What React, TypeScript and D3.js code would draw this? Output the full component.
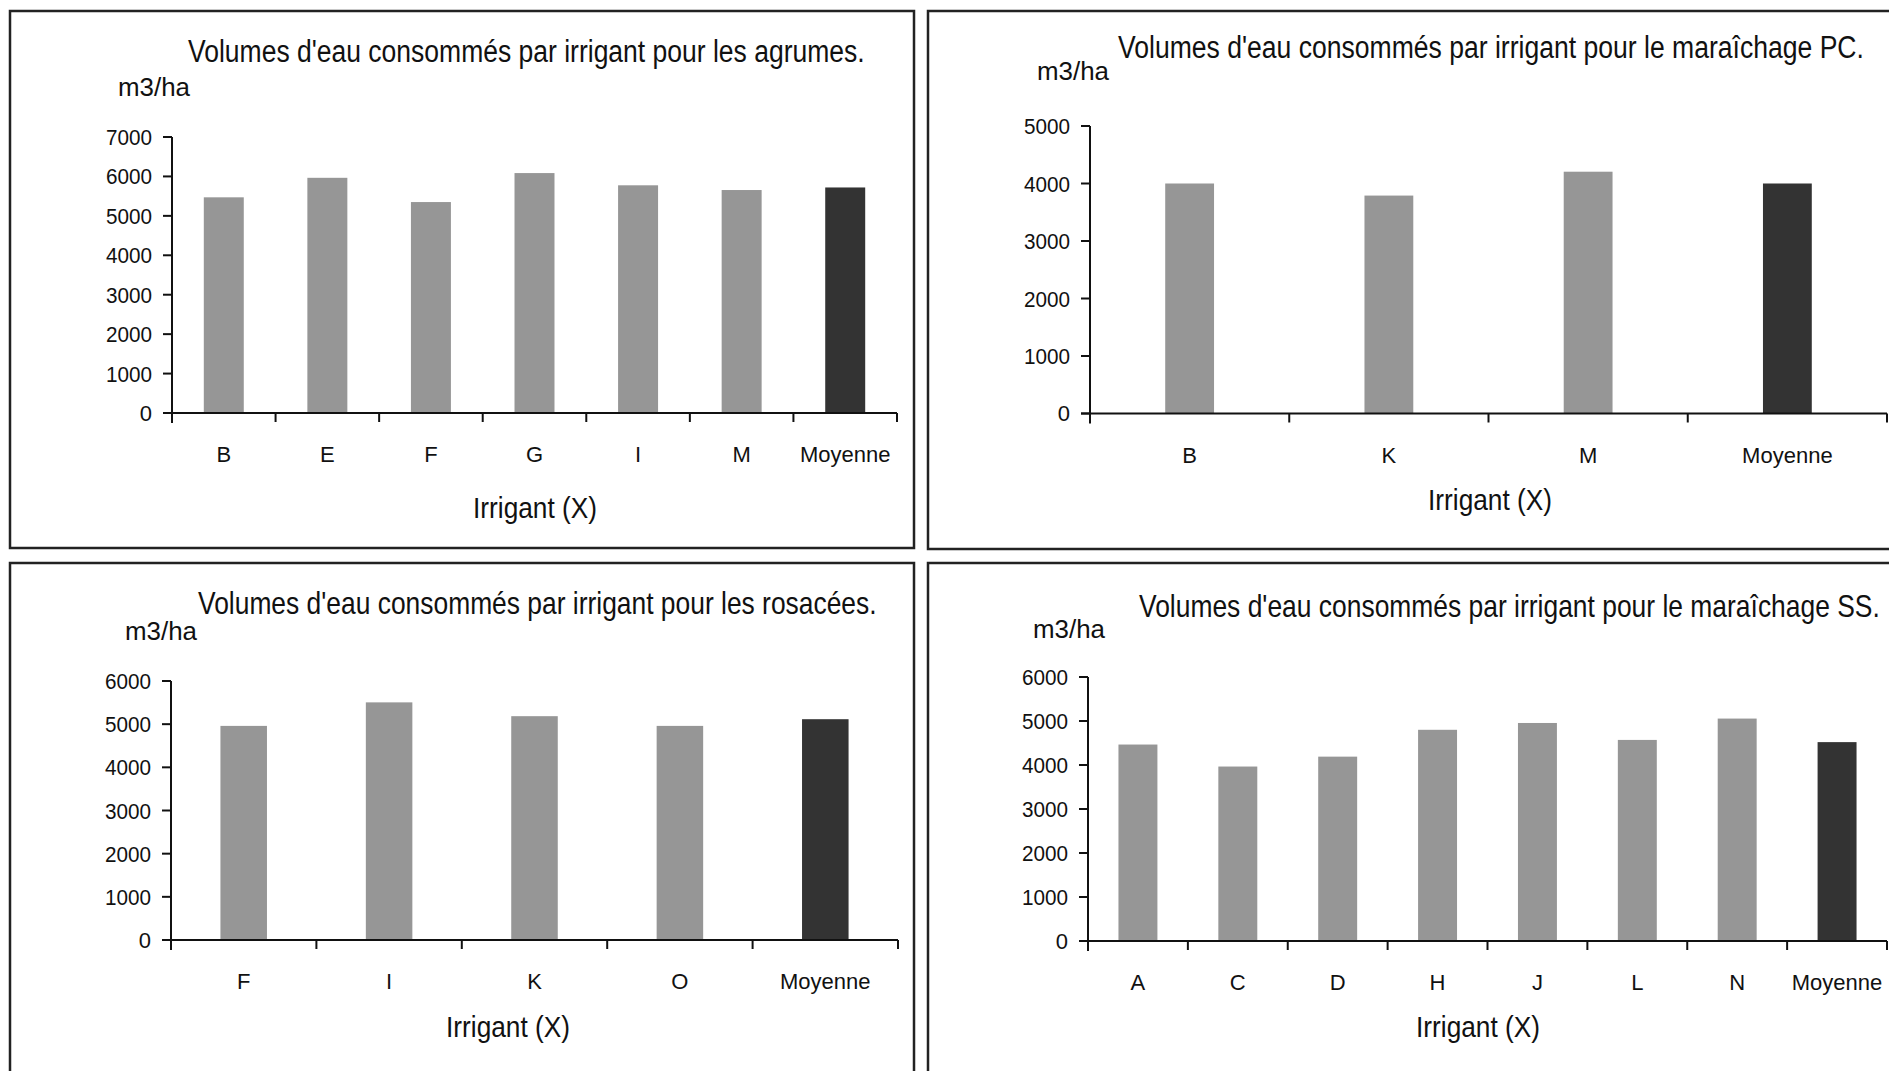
import React, { useLayoutEffect, useRef, useState } from "react";
import * as d3 from "d3";

// ---- Data ----
const agrumesCats = ["B", "E", "F", "G", "I", "M", "Moyenne"];
const agrumesVals = [5470, 5965, 5350, 6085, 5775, 5655, 5720];

const pcCats = ["B", "K", "M", "Moyenne"];
const pcVals = [4000, 3790, 4205, 4000];

const rosaceesCats = ["F", "I", "K", "O", "Moyenne"];
const rosaceesVals = [4960, 5505, 5185, 4960, 5115];

const ssCats = ["A", "C", "D", "H", "J", "L", "N", "Moyenne"];
const ssVals = [4465, 3965, 4190, 4800, 4955, 4570, 5055, 4520];

const titles = [
  "Volumes d'eau consommés par irrigant pour les agrumes.",
  "Volumes d'eau consommés par irrigant pour le maraîchage PC.",
  "Volumes d'eau consommés par irrigant pour les rosacées.",
  "Volumes d'eau consommés par irrigant pour le maraîchage SS.",
];
const yMaxes = [7000, 5000, 6000, 6000];
const unitLabel = "m3/ha";
const xAxisLabel = "Irrigant (X)";
const meanLabel = "Moyenne";

// ---- Layout (positions/sizes only) ----
const panels = [
  { cats: agrumesCats, vals: agrumesVals, box: [10, 11, 904, 537], x0: 172, x1: 897, yZero: 413, yTop: 137, barFrac: 0.386,
    title: [188, 62, 677], unit: [118, 96], xt: [535, 518] },
  { cats: pcCats, vals: pcVals, box: [928, 11, 1000, 538], x0: 1090, x1: 1887, yZero: 413.5, yTop: 126, barFrac: 0.245,
    title: [1118, 58, 746], unit: [1037, 80], xt: [1490, 510] },
  { cats: rosaceesCats, vals: rosaceesVals, box: [10, 563, 904, 600], x0: 171, x1: 898, yZero: 940, yTop: 681, barFrac: 0.32,
    title: [198, 614, 679], unit: [125, 640], xt: [508, 1037] },
  { cats: ssCats, vals: ssVals, box: [928, 563, 1000, 600], x0: 1088, x1: 1887, yZero: 941, yTop: 677, barFrac: 0.39,
    title: [1139, 617, 741], unit: [1033, 638], xt: [1478, 1037] },
];

const FONT = "'Liberation Sans', Arial, sans-serif";
const INK = "#111";
const GRAY = "#969696";
const DARK = "#333333";

// Text horizontally squeezed to a target width via a scale transform
function FitText({ x, y, width, anchor = "start", fontSize, children }: any) {
  const ref = useRef<SVGTextElement>(null);
  const [sx, setSx] = useState(1);
  useLayoutEffect(() => {
    if (ref.current) {
      const w = ref.current.getComputedTextLength();
      if (w > 0) setSx(width / w);
    }
  }, [width, children]);
  return (
    <text ref={ref} transform={`translate(${x},${y}) scale(${sx},1)`} textAnchor={anchor}
      fontSize={fontSize} fontFamily={FONT} fill={INK}>{children}</text>
  );
}

function Panel({ p, i }: { p: any; i: number }) {
  const yMax = yMaxes[i];
  const y = d3.scaleLinear().domain([0, yMax]).range([p.yZero, p.yTop]);
  const pad = 1 - p.barFrac;
  const xb = d3.scaleBand<string>().domain(p.cats).range([p.x0, p.x1]).paddingInner(pad).paddingOuter(pad / 2);
  const xt = d3.scaleBand<string>().domain(p.cats).range([p.x0, p.x1]).padding(0);
  const ticks = d3.range(0, yMax + 1, 1000);
  const boundaries = [...p.cats.map((c: string) => xt(c) as number), p.x1];
  const [bx, by, bw, bh] = p.box;
  return (
    <g>
      <rect x={bx} y={by} width={bw} height={bh} fill="#fff" stroke="#222" strokeWidth={2.5} />
      <FitText x={p.title[0]} y={p.title[1]} width={p.title[2]} fontSize={31}>{titles[i]}</FitText>
      <FitText x={p.unit[0]} y={p.unit[1]} width={72} fontSize={25}>{unitLabel}</FitText>
      {p.cats.map((c: string, k: number) => (
        <rect key={c} x={xb(c)} y={y(p.vals[k])} width={xb.bandwidth()} height={p.yZero - y(p.vals[k])}
          fill={c === meanLabel ? DARK : GRAY} />
      ))}
      {/* y axis */}
      <line x1={p.x0} x2={p.x0} y1={y(yMax)} y2={p.yZero + 10} stroke={INK} strokeWidth={2} />
      {ticks.map((t) => (
        <g key={t}>
          <line x1={p.x0 - 9} x2={p.x0} y1={y(t)} y2={y(t)} stroke={INK} strokeWidth={2} />
          {String(t).length > 1 ? (
            <FitText x={p.x0 - 20} y={y(t) + 8} width={46} anchor="end" fontSize={22}>{t}</FitText>
          ) : (
            <text x={p.x0 - 20} y={y(t)} dy="0.36em" textAnchor="end" fontSize={22} fontFamily={FONT} fill={INK}>{t}</text>
          )}
        </g>
      ))}
      {/* x axis */}
      <line x1={p.x0 - 9} x2={p.x1} y1={p.yZero} y2={p.yZero} stroke={INK} strokeWidth={2} />
      {boundaries.map((bxp: number, k: number) => (
        <line key={k} x1={bxp} x2={bxp} y1={p.yZero} y2={p.yZero + 9} stroke={INK} strokeWidth={2} />
      ))}
      {p.cats.map((c: string) => (
        <text key={c} x={(xt(c) as number) + xt.bandwidth() / 2} y={p.yZero + 49} textAnchor="middle"
          fontSize={22} fontFamily={FONT} fill={INK}>{c}</text>
      ))}
      <FitText x={p.xt[0]} y={p.xt[1]} width={124} anchor="middle" fontSize={30}>{xAxisLabel}</FitText>
    </g>
  );
}

export default function App() {
  return (
    <svg width={1889} height={1071} style={{ position: "absolute", left: 0, top: 0, display: "block", background: "#fff" }}>
      <rect x={0} y={0} width={1889} height={1071} fill="#fff" />
      {panels.map((p, i) => <Panel key={i} p={p} i={i} />)}
    </svg>
  );
}
